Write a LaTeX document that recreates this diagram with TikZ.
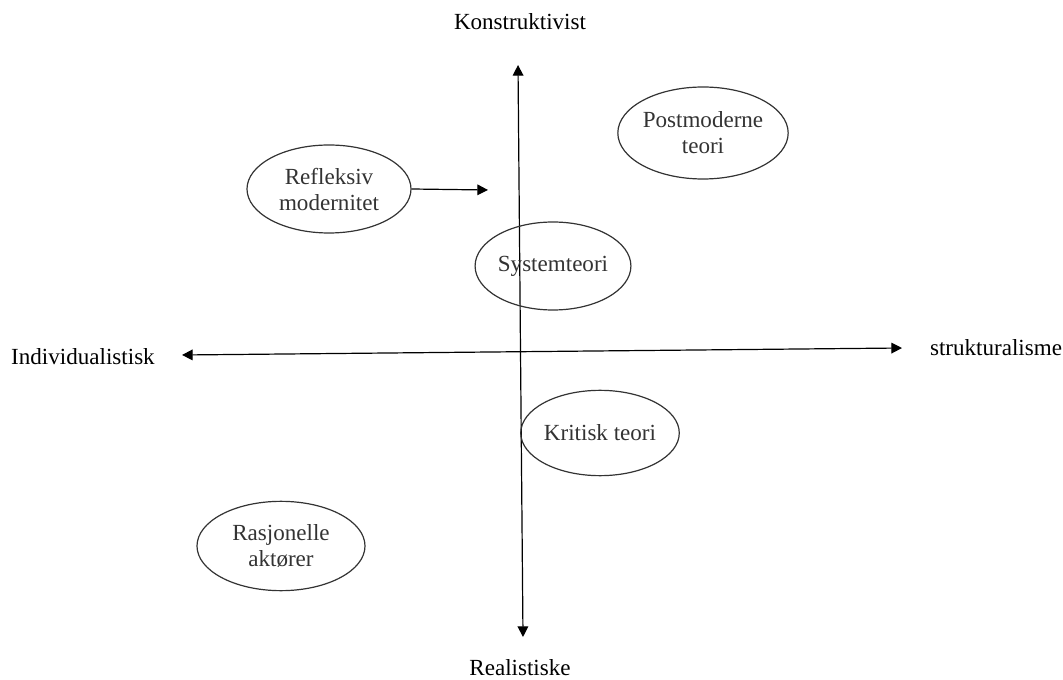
\documentclass[tikz,border=0pt]{standalone}
\usepackage{fontspec}
\setmainfont{Liberation Serif}
\usetikzlibrary{arrows.meta,shapes.geometric}
\begin{document}
\begin{tikzpicture}[x=0.75pt,y=-0.75pt,
  every node/.style={font=\fontsize{17.3}{19.5}\selectfont},
  blob/.style={draw, ellipse, inner sep=0pt, align=center, line width=0.9pt, black!80, text=black!80},
  axis/.style={line width=0.9pt, {Triangle[length=8pt,width=8pt]}-{Triangle[length=8pt,width=8pt]}},
  link/.style={line width=0.9pt, -{Triangle[length=8pt,width=8pt]}}]
\useasboundingbox (0,0) rectangle (1063,680);
% axis end points
\coordinate (top) at (518,65);
\coordinate (bottom) at (523,637);
\coordinate (left) at (182,355);
\coordinate (right) at (902,348);
\draw[axis] (bottom) -- (top);
\draw[axis] (left) -- (right);
% axis labels
\node (konst) at (520,22) {Konstruktivist};
\node (real) at (520,668) {Realistiske};
\node (indiv) at (83,357) {Individualistisk};
\node (struk) at (996,348) {strukturalisme};
% theory ellipses (sizes in pt: 0.75 per pixel)
\node[blob, minimum width=123pt, minimum height=66pt] (refl) at (329,189) {Refleksiv\\modernitet};
\node[blob, minimum width=122pt, minimum height=69pt] (post) at (703,133) {Postmoderne\\teori};
\node[blob, minimum width=112pt, minimum height=66pt] (sys) at (553,266) {Systemteori};
\node[blob, minimum width=112pt, minimum height=64pt] (krit) at (600,433) {Kritisk teori};
\node[blob, minimum width=126pt, minimum height=67pt] (rasj) at (281,546) {Rasjonelle\\aktører};
\coordinate (reflend) at (488,190);
\draw[link] (refl.east) -- (reflend);
\end{tikzpicture}
\end{document}
